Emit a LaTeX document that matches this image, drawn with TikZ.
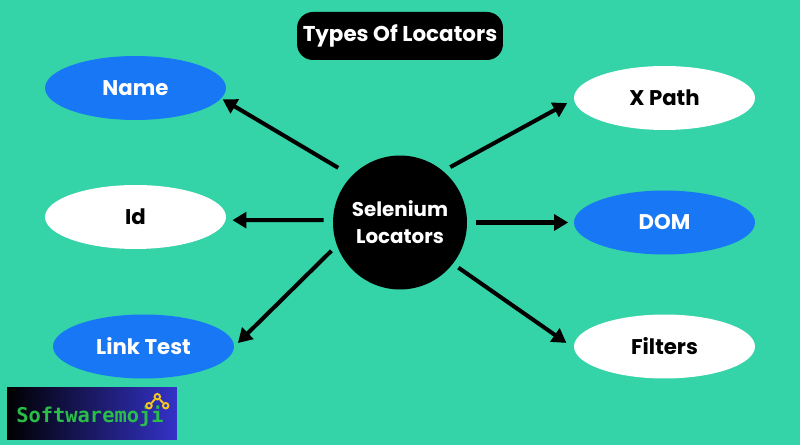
\documentclass[tikz,border=0pt]{standalone}
\usepackage{fontspec}
\setmainfont{Poppins}
\newfontfamily\logofont{DejaVu Sans Mono}
\usetikzlibrary{shapes.geometric, arrows.meta}
\definecolor{bgGreen}{RGB}{52,211,168}
\definecolor{ovalBlue}{RGB}{24,119,245}
\definecolor{logoBlue}{RGB}{52,50,200}
\definecolor{logoGreen}{RGB}{42,190,72}
\definecolor{logoYellow}{RGB}{245,200,30}
\tikzset{
	oval/.style={ellipse, inner sep=0pt, minimum width=3.62cm, minimum height=1.28cm, font=\fontsize{12.1}{14}\selectfont\bfseries},
	blueoval/.style={oval, fill=ovalBlue, text=white},
	whiteoval/.style={oval, fill=white, text=black},
	locarrow/.style={draw=black, line width=2.3pt, -{Triangle[length=8pt, width=9pt]}},
	logodot/.style={circle, draw=logoYellow, line width=1.1pt, inner sep=0pt, minimum size=0.11cm}
}
\begin{document}
\begin{tikzpicture}[x=0.02cm, y=-0.02cm]
	%Background
	\fill[bgGreen] (0,0) rectangle (800,445);
	\useasboundingbox (0,0) rectangle (800,445);
	%Title
	\node [fill=black, text=white, rounded corners=0.32cm, inner sep=0pt, minimum width=4.12cm, minimum height=0.96cm, font=\fontsize{12.2}{14}\selectfont\bfseries] (title) at (400,36) {Types Of Locators};
	%Centre circle
	\node [circle, fill=black, text=white, inner sep=0pt, minimum size=2.68cm, align=center, font=\fontsize{11.3}{15.5}\selectfont\bfseries] (hub) at (400,222.5) {Selenium\\Locators};
	%Left column
	\node [blueoval] (name) at (135.5,88) {Name};
	\node [whiteoval] (id) at (135.5,217) {Id};
	\node [blueoval] (link) at (143.5,346.5) {Link Test};
	%Right column
	\node [whiteoval] (xpath) at (664.5,98) {X Path};
	\node [blueoval] (dom) at (664.5,222.5) {DOM};
	\node [whiteoval] (filters) at (664.5,346.5) {Filters};
	%Arrows out of the circle
	\draw [locarrow, shorten <=0.31cm, shorten >=0.03cm] (hub.136.6) -- (name.-7.3);
	\draw [locarrow, shorten <=0.18cm, shorten >=0.13cm] (hub.178.3) -- (id.-2.5);
	\draw [locarrow, shorten <=0.15cm, shorten >=0.10cm] (hub.200.7) -- (link.0);
	\draw [locarrow, shorten <=0.16cm, shorten >=0.15cm] (hub.50) -- (xpath.181.5);
	\draw [locarrow, shorten <=0.18cm, shorten >=0.11cm] (hub.0) -- (dom.180);
	\draw [locarrow, shorten <=0.13cm, shorten >=0.18cm] (hub.322) -- (filters.181.7);
	%Logo
	\node [left color=black, right color=logoBlue, inner sep=0pt, minimum width=3.4cm, minimum height=1.06cm] (logo) at (92,413.5) {};
	\node [text=logoGreen, inner sep=0pt, font=\logofont\fontsize{11.6}{14}\selectfont\bfseries] (logotext) at (90,416) {Softwaremoji};
	\node [logodot] (dot1) at (149,405.7) {};
	\node [logodot] (dot2) at (157.3,396.7) {};
	\node [logodot] (dot3) at (165.7,405.7) {};
	\draw [logoYellow, line width=1.1pt] (dot1) -- (dot2) -- (dot3);
\end{tikzpicture}
\end{document}
